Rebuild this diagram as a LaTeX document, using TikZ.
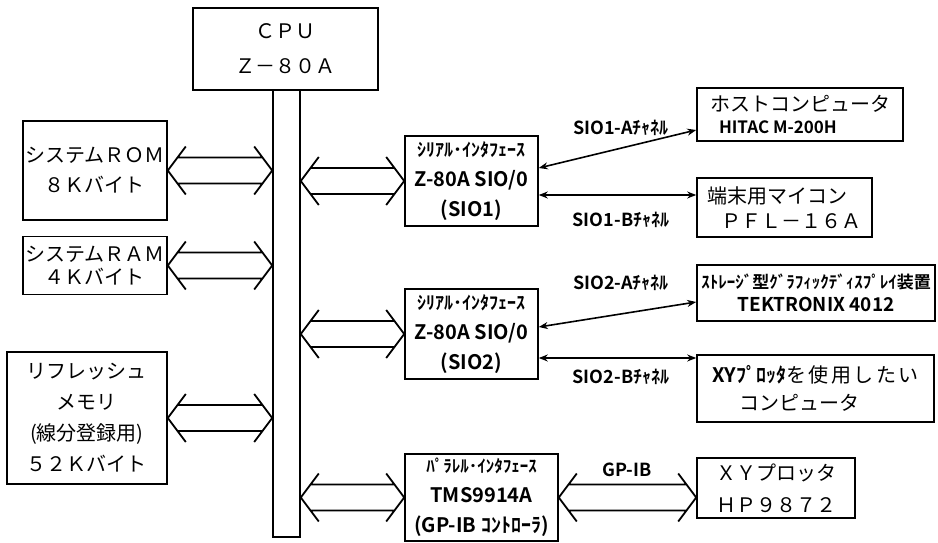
\documentclass[tikz,border=0pt]{standalone}
\usepackage{fontspec}
\setmainfont{Noto Sans CJK JP}[BoldFont={Noto Sans CJK JP Bold}]
\usetikzlibrary{arrows.meta,calc}

\newcommand\widearrow[2]{%
  \draw[widearr] let \p1=(#1), \p2=(#2) in
    (\x1+18pt,\y1+24pt) -- (\x1,\y1) -- (\x1+18pt,\y1-24pt)
    (\x2-18pt,\y1+24pt) -- (\x2,\y1) -- (\x2-18pt,\y1-24pt)
    (\x1+9.75pt,\y1+13pt) -- (\x2-9.75pt,\y1+13pt)
    (\x1+9.75pt,\y1-13pt) -- (\x2-9.75pt,\y1-13pt);}

\begin{document}
\begin{tikzpicture}[x=1pt, y=-1pt,
    box/.style={draw, line width=1.6pt, inner sep=0pt, align=center},
    widearr/.style={line width=1.8pt},
    link/.style={line width=1.6pt, {Stealth[length=9pt,width=7pt]}-{Stealth[length=9pt,width=7pt]}},
    lbl/.style={font=\bfseries\fontsize{18pt}{20pt}\selectfont, inner sep=0pt}]
  \useasboundingbox (0,0) rectangle (938,543);
  \node[box, minimum width=185pt, minimum height=82pt, font=\fontsize{20pt}{35pt}\selectfont] (cpu) at (285.5,49) {ＣＰＵ\\Ｚ－８０Ａ};
  \node[box, minimum width=27pt, minimum height=447pt] (bus) at (286.5,313.5) {};
  \node[box, minimum width=144pt, minimum height=99pt, font=\fontsize{20pt}{30pt}\selectfont] (rom) at (95,170.5) {システムＲＯＭ\\８Ｋバイト};
  \node[box, minimum width=144pt, minimum height=58pt, font=\fontsize{20pt}{23pt}\selectfont] (ram) at (95,265.5) {システムＲＡＭ\\４Ｋバイト};
  \node[box, minimum width=160pt, minimum height=132pt, font=\fontsize{20pt}{31pt}\selectfont] (refm) at (87,418) {リフレッシュ\\メモリ\\(線分登録用)\\５２Ｋバイト};
  \node[box, minimum width=133pt, minimum height=90pt, font=\bfseries\fontsize{20pt}{30pt}\selectfont] (sioa) at (471.5,181) {{\fontsize{18pt}{30pt}\selectfont ｼﾘｱﾙ･ｲﾝﾀﾌｪｰｽ}\\Z-80A SIO/0\\(SIO1)};
  \node[box, minimum width=133pt, minimum height=90pt, font=\bfseries\fontsize{20pt}{30pt}\selectfont] (siob) at (471.5,334) {{\fontsize{18pt}{30pt}\selectfont ｼﾘｱﾙ･ｲﾝﾀﾌｪｰｽ}\\Z-80A SIO/0\\(SIO2)};
  \node[box, minimum width=153pt, minimum height=87pt, font=\bfseries\fontsize{20pt}{30pt}\selectfont] (pio) at (481.5,497.5) {{\fontsize{17pt}{30pt}\selectfont ﾊﾟﾗﾚﾙ･ｲﾝﾀﾌｪｰｽ}\\TMS9914A\\(GP-IB ｺﾝﾄﾛｰﾗ)};
  \node[box, minimum width=206pt, minimum height=53pt, align=left, font=\fontsize{20pt}{22pt}\selectfont] (host) at (800,114.5) {ホストコンピュータ\\\hspace*{9pt}{\bfseries\fontsize{17pt}{22pt}\selectfont HITAC M-200H}};
  \node[box, minimum width=175pt, minimum height=59pt, align=left, font=\fontsize{20pt}{25pt}\selectfont] (term) at (784.5,207.5) {端末用マイコン\\\hspace*{14pt}ＰＦＬ－１６Ａ};
  \node[box, minimum width=238pt, minimum height=56pt, font=\bfseries\fontsize{17pt}{23pt}\selectfont] (disp) at (816,293) {ｽﾄﾚｰｼﾞ型ｸﾞﾗﾌｨｯｸﾃﾞｨｽﾌﾟﾚｲ装置\\{\fontsize{19pt}{23pt}\selectfont TEKTRONIX 4012}};
  \node[box, minimum width=237pt, minimum height=67pt, align=left, font=\fontsize{20pt}{28pt}\selectfont] (xyc) at (815.5,388.5) {{\bfseries XYﾌﾟﾛｯﾀ}{\addfontfeature{LetterSpace=12}を使用したい}\\\hspace*{27pt}コンピュータ};
  \node[box, minimum width=158pt, minimum height=60pt, font=\fontsize{20pt}{32pt}\selectfont] (plot) at (776,488) {ＸＹプロッタ\\ＨＰ９８７２};
  \widearrow{rom.east}{rom.east -| bus.west}
  \widearrow{ram.east}{ram.east -| bus.west}
  \widearrow{refm.east}{refm.east -| bus.west}
  \widearrow{sioa.west -| bus.east}{sioa.west}
  \widearrow{siob.west -| bus.east}{siob.west}
  \widearrow{pio.west -| bus.east}{pio.west}
  \widearrow{pio.east}{pio.east -| plot.west}
  \coordinate (sb) at ([yshift=-14pt]sioa.east);
  \coordinate (sd) at ([yshift=-24pt]siob.east);
  \draw[link] ([yshift=13pt]sioa.east) -- ([yshift=-15.5pt]host.west);
  \draw[link] (sb) -- (sb -| term.west);
  \draw[link] ([yshift=7pt]siob.east) -- ([yshift=-9pt]disp.west);
  \draw[link] (sd) -- (sd -| xyc.west);
  \node[lbl] (la) at (621,128) {SIO1-Aﾁｬﾈﾙ};
  \node[lbl] (lb) at (621,220) {SIO1-Bﾁｬﾈﾙ};
  \node[lbl] (lc) at (621,283) {SIO2-Aﾁｬﾈﾙ};
  \node[lbl] (ld) at (621,377) {SIO2-Bﾁｬﾈﾙ};
  \node[lbl] (gp) at (627,470) {GP-IB};
\end{tikzpicture}
\end{document}
